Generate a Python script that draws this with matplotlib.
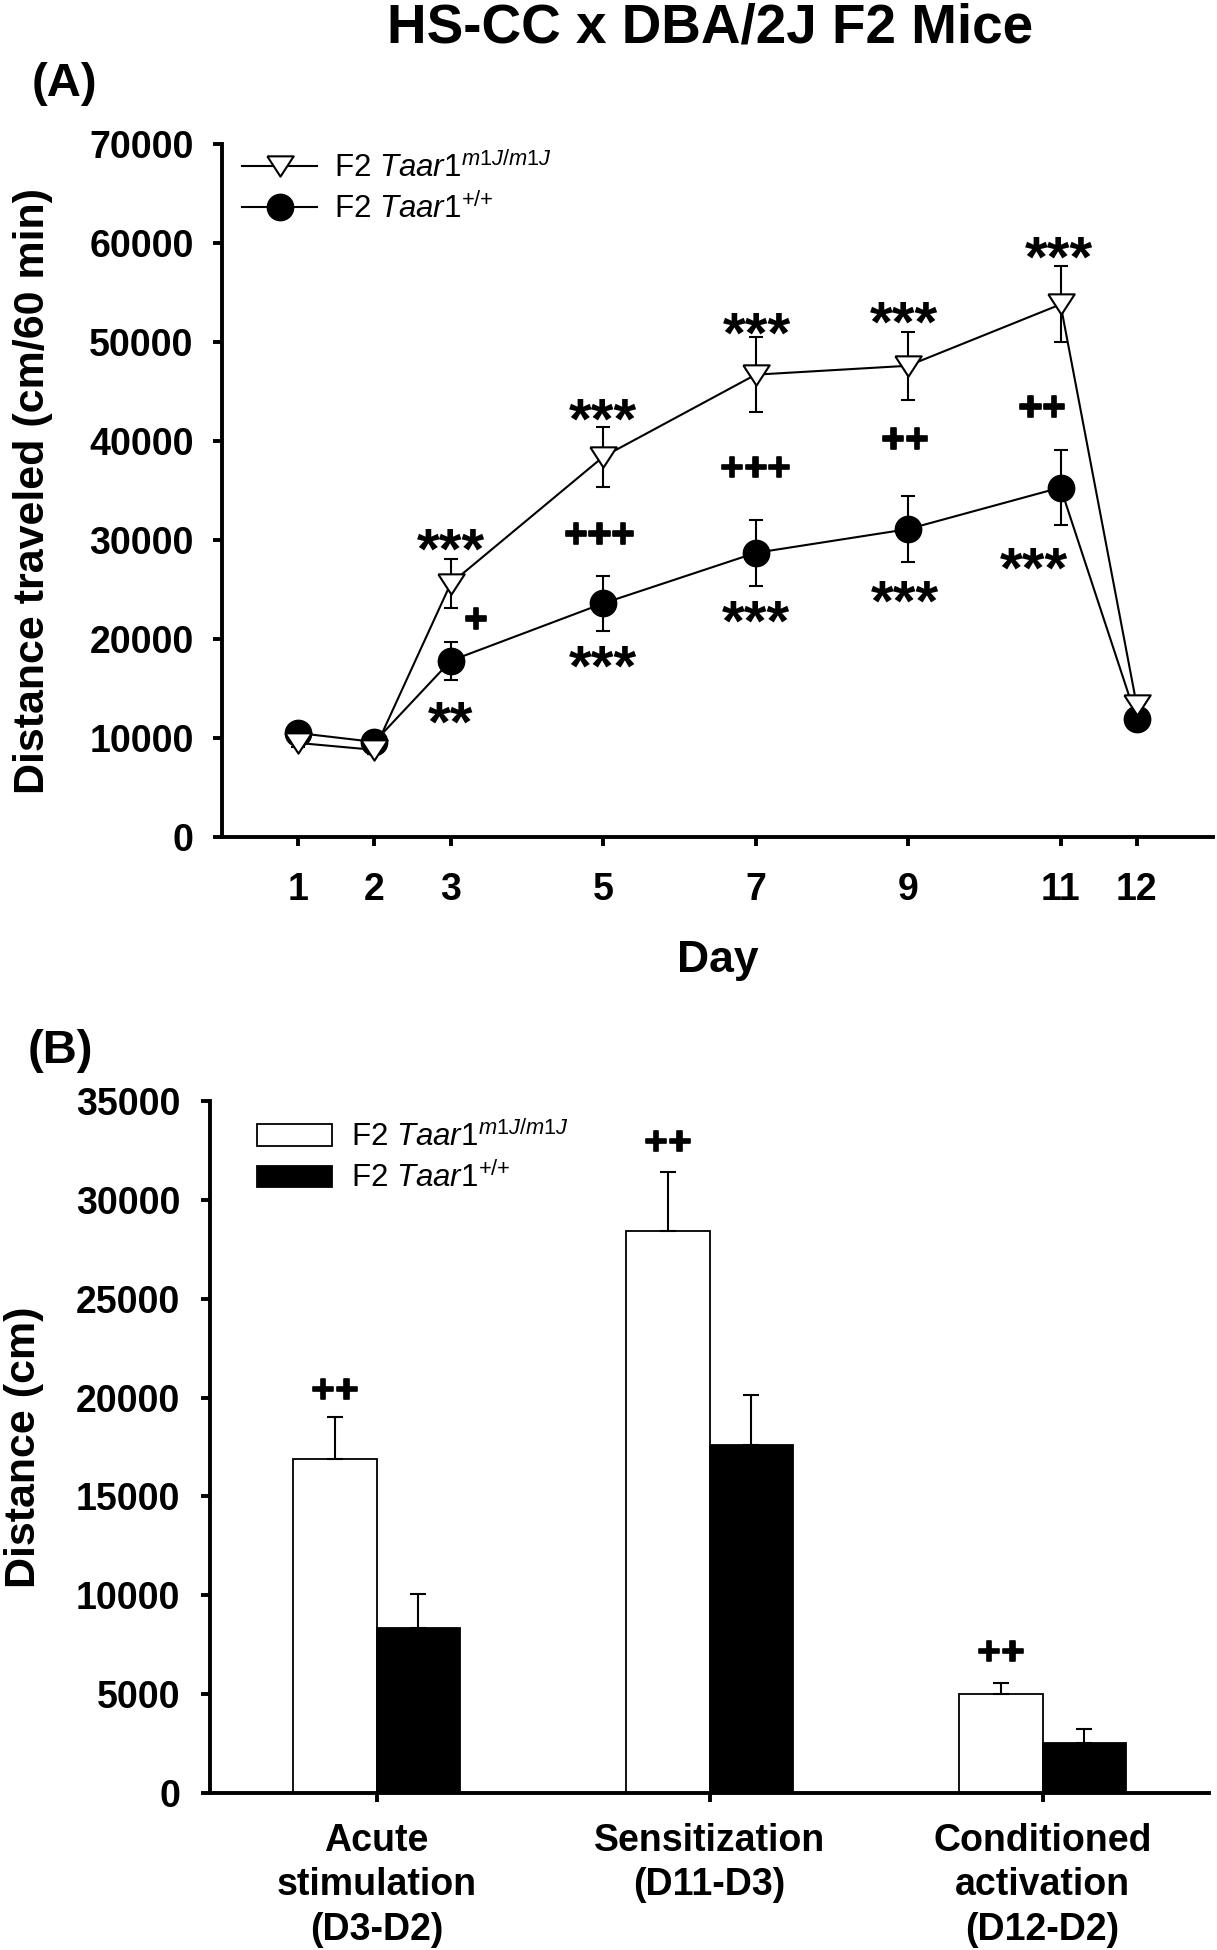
import matplotlib
matplotlib.use('Agg')
import matplotlib.pyplot as plt
import matplotlib.patheffects as pe
from matplotlib.lines import Line2D
from matplotlib.patches import Patch
import numpy as np

plt.rcParams['font.family'] = ['Liberation Sans', 'DejaVu Sans']
plt.rcParams['mathtext.fontset'] = 'custom'
plt.rcParams['mathtext.rm'] = 'Liberation Sans'
plt.rcParams['mathtext.it'] = 'Liberation Sans:italic'
plt.rcParams['mathtext.bf'] = 'Liberation Sans:bold'

# ---------------- data ----------------
title = "HS-CC x DBA/2J F2 Mice"
label_ko = r"F2 $\mathit{Taar1}^{\mathit{m1J/m1J}}$"
label_wt = r"F2 $\mathit{Taar1}^{{+}/{+}}$"

days = [1, 2, 3, 5, 7, 9, 11, 12]
ko_mean = [9500, 8800, 25600, 38400, 46700, 47600, 53800, 13300]
ko_sem = [400, 400, 2500, 3000, 3800, 3450, 3850, 400]
wt_mean = [10500, 9600, 17800, 23600, 28700, 31100, 35300, 11900]
wt_sem = [400, 400, 1900, 2800, 3300, 3350, 3800, 400]

ann_a_text = ["***", "+", "**", "***", "+++", "***", "***", "+++", "***",
              "***", "++", "***", "***", "++", "***"]
ann_a_x = [3, 3.33, 3, 5, 4.95, 5, 7.02, 7.0, 7.0, 8.95, 8.96, 8.96, 10.98, 10.76, 10.65]
ann_a_y = [30500, 22100, 13000, 43600, 30700, 18700, 52300, 37400, 23200,
           53400, 40300, 25200, 60000, 43500, 28600]

categories = ["Acute\nstimulation\n(D3-D2)", "Sensitization\n(D11-D3)",
              "Conditioned\nactivation\n(D12-D2)"]
ko_b = [16900, 28400, 5000]
ko_b_sem = [2100, 3000, 550]
wt_b = [8350, 17600, 2520]
wt_b_sem = [1700, 2550, 700]
ann_b_text = ["++", "++", "++"]
ann_b_y = [20450, 33000, 7200]

# ---------------- figure ----------------
W, H = 1217, 1950
fig = plt.figure(figsize=(W / 100, H / 100), dpi=100)

def fx(px):
    return px / W

def fy(py):
    return 1 - py / H

TICK_FS = 27
LAB_FS = 31
LEG_FS = 22.5
AST_FS = 42
PLUS_FS = 29
SPINE_LW = 2.8
plus_fx = [pe.withStroke(linewidth=1.2, foreground='black')]

tri_marker = [(-1, 0.77), (1, 0.77), (0, -0.77), (-1, 0.77)]

fig.text(fx(710), fy(29), title, ha='center', va='center', fontsize=39.5, fontweight='bold')
fig.text(fx(64), fy(84), "(A)", ha='center', va='center', fontsize=34, fontweight='bold')
fig.text(fx(60), fy(1051), "(B)", ha='center', va='center', fontsize=34, fontweight='bold')

def style_axes(ax, xpad, ypad):
    for s in ['top', 'right']:
        ax.spines[s].set_visible(False)
    for s in ['left', 'bottom']:
        ax.spines[s].set_linewidth(SPINE_LW)
    ax.tick_params(axis='both', direction='out', length=6.5, width=SPINE_LW,
                   labelsize=TICK_FS)
    ax.tick_params(axis='x', pad=xpad)
    ax.tick_params(axis='y', pad=ypad)
    for lab in ax.get_xticklabels() + ax.get_yticklabels():
        lab.set_fontweight('bold')

# ---------------- panel A ----------------
axA = fig.add_axes([fx(222), fy(837), fx(1213) - fx(222), fy(144) - fy(837)])
axA.errorbar(days, wt_mean, yerr=wt_sem, color='black', lw=1.5, elinewidth=1.5,
             capsize=5, capthick=1.5, marker='o', ms=19, mfc='black', mec='black',
             zorder=3)
axA.errorbar(days, ko_mean, yerr=ko_sem, color='black', lw=1.5, elinewidth=1.5,
             capsize=5, capthick=1.5, marker=tri_marker, ms=19, mfc='white',
             mec='black', mew=1.5, zorder=4)
axA.set_xlim(0, 13)
axA.set_ylim(0, 70000)
axA.set_xticks(days)
axA.set_xticklabels([str(d) for d in days])
axA.set_yticks(np.arange(0, 70001, 10000))
style_axes(axA, 19, 14)
axA.set_xlabel("Day", fontsize=32, fontweight='bold', va='center')
axA.xaxis.set_label_coords(0.5, (837 - 960) / 693)
axA.set_ylabel("Distance traveled (cm/60 min)", fontsize=LAB_FS, fontweight='bold', va='center')
axA.yaxis.set_label_coords((33 - 222) / 991, 0.5)

for t, x, y in zip(ann_a_text, ann_a_x, ann_a_y):
    if '*' in t:
        axA.annotate(t, xy=(x, y), xytext=(0, -0.57 * AST_FS), textcoords='offset points',
                     ha='center', va='baseline', fontsize=AST_FS, fontweight='bold')
    else:
        axA.annotate(t, xy=(x, y), xytext=(0, -0.34 * PLUS_FS), textcoords='offset points',
                     ha='center', va='baseline', fontsize=PLUS_FS, fontweight='bold',
                     path_effects=plus_fx)

hA = [Line2D([], [], color='black', lw=1.5, marker=tri_marker, ms=19, mfc='white', mec='black', mew=1.5),
      Line2D([], [], color='black', lw=1.5, marker='o', ms=19, mfc='black', mec='black')]
axA.legend(hA, [label_ko, label_wt], loc='upper left', bbox_to_anchor=(fx(242), fy(152)),
           bbox_transform=fig.transFigure, frameon=False, borderpad=0, borderaxespad=0,
           handlelength=2.4, handletextpad=0.55, labelspacing=0.3,
           prop={'size': LEG_FS, 'weight': 'normal'})

# ---------------- panel B ----------------
axB = fig.add_axes([fx(210), fy(1793), fx(1209) - fx(210), fy(1101) - fy(1793)])
xb = np.arange(1, len(categories) + 1)
bw = 0.25
axB.bar(xb - bw / 2, ko_b, width=bw, color='white', edgecolor='black', lw=1.3, zorder=2)
axB.bar(xb + bw / 2, wt_b, width=bw, color='black', edgecolor='black', lw=1.3, zorder=2)
axB.errorbar(xb - bw / 2, ko_b, yerr=[np.zeros(len(ko_b)), ko_b_sem], fmt='none',
             ecolor='black', elinewidth=1.5, capsize=6, capthick=1.5, zorder=3)
axB.errorbar(xb + bw / 2, wt_b, yerr=[np.zeros(len(wt_b)), wt_b_sem], fmt='none',
             ecolor='black', elinewidth=1.5, capsize=6, capthick=1.5, zorder=3)
axB.set_xlim(0.5, 3.5)
axB.set_ylim(0, 35000)
axB.set_xticks(xb)
axB.set_xticklabels(categories, linespacing=1.3)
axB.set_yticks(np.arange(0, 35001, 5000))
style_axes(axB, 15, 15)
axB.set_ylabel("Distance (cm)", fontsize=LAB_FS, fontweight='bold', va='center')
axB.yaxis.set_label_coords((24 - 210) / 999, 0.5)

for t, x, y in zip(ann_b_text, xb - bw / 2, ann_b_y):
    axB.annotate(t, xy=(x, y), xytext=(0, -0.34 * PLUS_FS), textcoords='offset points',
                 ha='center', va='baseline', fontsize=PLUS_FS, fontweight='bold',
                 path_effects=plus_fx)

hB = [Patch(facecolor='white', edgecolor='black', lw=1.3),
      Patch(facecolor='black', edgecolor='black', lw=1.3)]
axB.legend(hB, [label_ko, label_wt], loc='upper left', bbox_to_anchor=(fx(257), fy(1121)),
           bbox_transform=fig.transFigure, frameon=False, borderpad=0, borderaxespad=0,
           handlelength=2.4, handleheight=0.7, handletextpad=0.6, labelspacing=0.3,
           prop={'size': LEG_FS, 'weight': 'normal'})

fig.savefig('out.png', dpi=100)
